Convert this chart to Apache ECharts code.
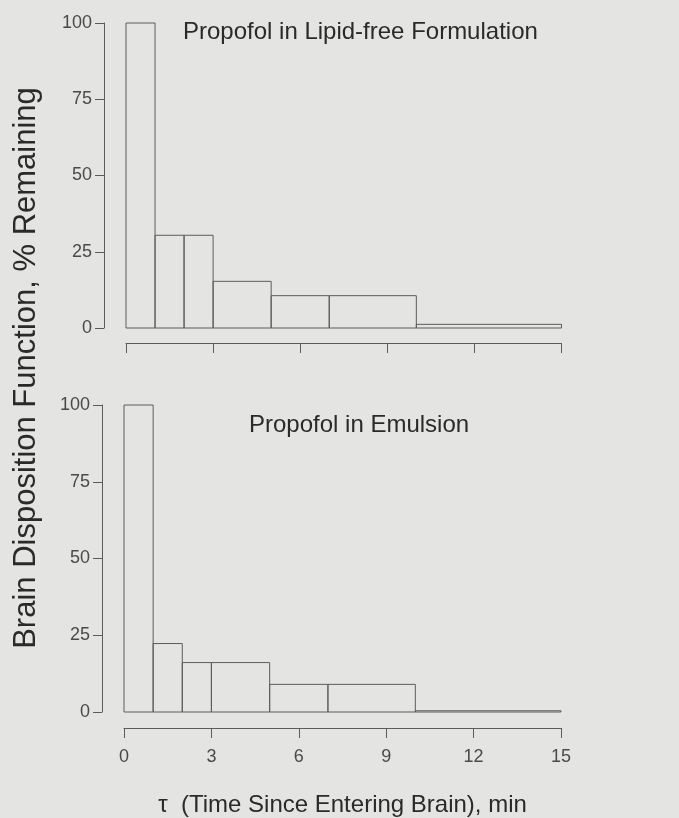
<!DOCTYPE html>
<html>
<head>
<meta charset="utf-8">
<script src="https://cdn.jsdelivr.net/npm/echarts@6/dist/echarts.min.js"></script>
<style>
  html, body { margin: 0; padding: 0; background: #e4e4e2; }
  #chart { width: 679px; height: 818px; }
</style>
</head>
<body>
<div id="chart"></div>
<script>
// bins in minutes (start / end) and % remaining per bin
const binStart = [0, 1, 2, 3, 5, 7, 10];
const binEnd = [1, 2, 3, 5, 7, 10, 15];
const lipidFree = [100, 30.4, 30.4, 15.3, 10.6, 10.6, 1.2];
const emulsion = [100, 22.3, 16.1, 16.1, 9.0, 9.0, 0.4];
const xTicks = [0, 3, 6, 9, 12, 15];
const yTicks = [0, 25, 50, 75, 100];

const font = "'Liberation Sans', Arial, sans-serif";
const lineCol = "#5c5c5c";

function binData(vals) {
  return vals.map((v, i) => [binStart[i], binEnd[i], v]);
}

function renderBin(params, api) {
  const p0 = api.coord([api.value(0), api.value(2)]);
  const p1 = api.coord([api.value(1), 0]);
  return {
    type: "rect",
    shape: { x: p0[0], y: p0[1], width: p1[0] - p0[0], height: p1[1] - p0[1] },
    style: { fill: "rgba(0,0,0,0)", stroke: lineCol, lineWidth: 1 }
  };
}

function xAxisOpt(grid, offset, showLabels) {
  return {
    type: "value", gridIndex: grid, min: xTicks[0], max: xTicks[xTicks.length - 1],
    interval: 3, offset: offset,
    axisLine: { show: true, onZero: false, lineStyle: { color: lineCol, width: 1 } },
    axisTick: { show: true, length: 10, lineStyle: { color: lineCol } },
    axisLabel: { show: showLabels, fontSize: 18, color: "#4a4a4a", fontFamily: font, margin: 20 },
    splitLine: { show: false }
  };
}

function yAxisOpt(grid) {
  return {
    type: "value", gridIndex: grid, min: yTicks[0], max: yTicks[yTicks.length - 1],
    interval: 25, offset: 22,
    axisLine: { show: true, onZero: false, lineStyle: { color: lineCol, width: 1 } },
    axisTick: { show: true, length: 9, lineStyle: { color: lineCol } },
    axisLabel: { fontSize: 18, color: "#4a4a4a", fontFamily: font, margin: 12 },
    splitLine: { show: false }
  };
}

const chart = echarts.init(document.getElementById("chart"));

const bottomX = xAxisOpt(1, 16, true);
bottomX.name = "\u03c4  (Time Since Entering Brain), min";
bottomX.nameLocation = "middle";
bottomX.nameGap = 65;
bottomX.nameTextStyle = { fontSize: 24, color: "#2a2a2a", fontFamily: font };

chart.setOption({
  backgroundColor: "#e4e4e2",
  animation: false,
  title: [
    { text: "Propofol in Lipid-free Formulation", left: 178, top: 15,
      textStyle: { fontSize: 24, fontWeight: "normal", color: "#2a2a2a", fontFamily: font } },
    { text: "Propofol in Emulsion", left: 244, top: 408,
      textStyle: { fontSize: 24, fontWeight: "normal", color: "#2a2a2a", fontFamily: font } }
  ],
  grid: [
    { left: 126, top: 23, width: 435.5, height: 305 },
    { left: 124, top: 405, width: 437, height: 307 }
  ],
  xAxis: [xAxisOpt(0, 15, false), bottomX],
  yAxis: [yAxisOpt(0), yAxisOpt(1)],
  graphic: [{
    type: "text", x: 26, y: 368, rotation: Math.PI / 2,
    style: {
      text: "Brain Disposition Function, % Remaining",
      fontSize: 31, fontFamily: font, fill: "#2a2a2a",
      textAlign: "center", textVerticalAlign: "middle"
    }
  }],
  series: [
    { type: "custom", xAxisIndex: 0, yAxisIndex: 0, renderItem: renderBin,
      encode: { x: [0, 1], y: 2 }, data: binData(lipidFree) },
    { type: "custom", xAxisIndex: 1, yAxisIndex: 1, renderItem: renderBin,
      encode: { x: [0, 1], y: 2 }, data: binData(emulsion) }
  ]
});
</script>
</body>
</html>
